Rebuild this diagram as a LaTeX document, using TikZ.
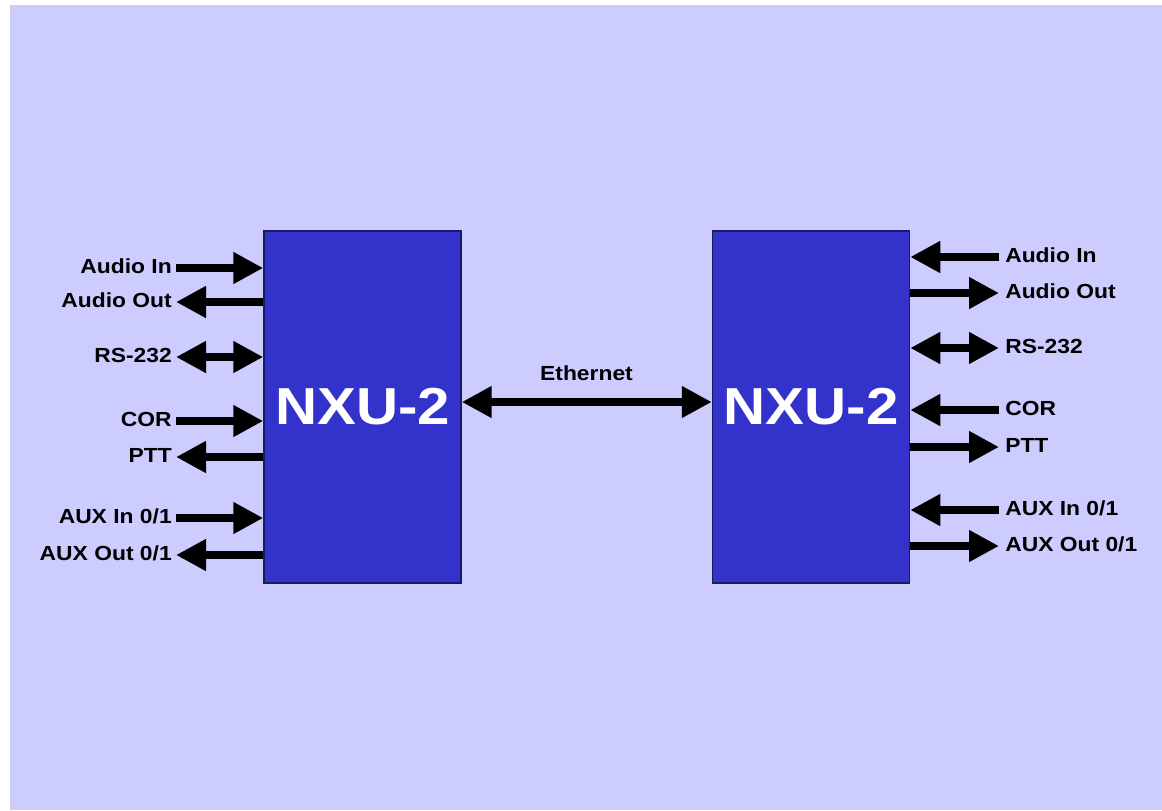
\documentclass[tikz,border=0pt]{standalone}
\usepackage{fontspec}
\setmainfont{Liberation Sans}[FakeStretch=1.12]
\usetikzlibrary{arrows.meta}
\definecolor{lavbg}{HTML}{CCCCFF}
\definecolor{unitblue}{HTML}{3333CC}
\definecolor{unitedge}{HTML}{1A1A66}
\tikzset{
  unit/.style={draw=unitedge,line width=1pt,fill=unitblue,text=white,inner sep=0pt,
    minimum width=4.925cm,minimum height=8.8cm,font=\fontsize{37}{40}\selectfont\bfseries},
  sig/.style={inner xsep=0.1cm,inner ysep=0pt,text height=1.38ex,text depth=0pt,
    font=\fontsize{14.5}{17}\selectfont\bfseries},
  wire/.style={line width=0.2cm,black},
  towire/.style={-{Triangle[length=0.75cm,width=0.75cm]}},
  fromwire/.style={{Triangle[length=0.75cm,width=0.75cm]}-},
  biwire/.style={{Triangle[length=0.75cm,width=0.75cm]}-{Triangle[length=0.75cm,width=0.75cm]}}
}
\begin{document}
\begin{tikzpicture}[x=0.025cm,y=-0.025cm]
  \useasboundingbox (0,0) rectangle (1162,810);
  \fill[lavbg] (10,5) rectangle (1162,810);
  % the two units
  \node[unit] (nxuA) at (362.5,407) {NXU-2};
  \node[unit] (nxuB) at (811,407) {NXU-2};
  % left unit signals
  \foreach \n/\y/\t/\d in {1/268/Audio In/towire, 2/302/Audio Out/fromwire, 3/357/RS-232/biwire,
      4/421/COR/towire, 5/457/PTT/fromwire, 6/518/{AUX In 0/1}/towire, 7/555/{AUX Out 0/1}/fromwire}
    { \node[sig,anchor=east] (sA\n) at (176,\y) {\t};
      \draw[wire,\d] (sA\n.east) -- (sA\n.east -| nxuA.west); }
  % right unit signals
  \foreach \n/\y/\t/\d in {1/257/Audio In/towire, 2/293/Audio Out/fromwire, 3/348/RS-232/biwire,
      4/410/COR/towire, 5/447/PTT/fromwire, 6/510/{AUX In 0/1}/towire, 7/546/{AUX Out 0/1}/fromwire}
    { \node[sig,anchor=west] (sB\n) at (1001,\y) {\t};
      \draw[wire,\d] ([xshift=-0.05cm]sB\n.west) -- (sB\n.west -| nxuB.east); }
  % link
  \draw[wire,biwire] ([yshift=0.125cm]nxuA.east) -- ([yshift=0.125cm]nxuB.west);
  \node[sig] (eth) at (586.5,375) {Ethernet};
\end{tikzpicture}
\end{document}
